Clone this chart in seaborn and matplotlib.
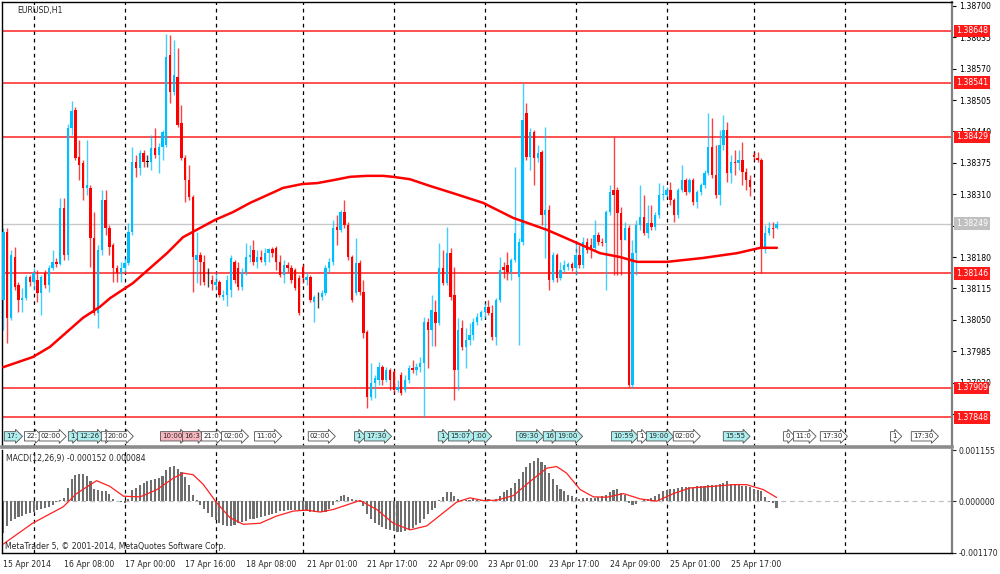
import numpy as np
import pandas as pd
import seaborn as sns
import matplotlib.pyplot as plt
import matplotlib.transforms as mtransforms

# --- EURUSD H1 candles, one entry per hourly bar ---
opens = [
    1.38091, 1.38232, 1.38054, 1.38180, 1.38122, 1.38091, 1.38095, 1.38139, 1.38128, 1.38132,
    1.38105, 1.38147, 1.38122, 1.38157, 1.38170, 1.38166, 1.38281, 1.38184, 1.38447, 1.38484,
    1.38387, 1.38375, 1.38323, 1.38323, 1.38219, 1.38064, 1.38195, 1.38298, 1.38240, 1.38205,
    1.38157, 1.38147, 1.38157, 1.38168, 1.38232, 1.38377, 1.38364, 1.38395, 1.38377, 1.38377,
    1.38406, 1.38391, 1.38408, 1.38412, 1.38598, 1.38522, 1.38553, 1.38457, 1.38385, 1.38339,
    1.38304, 1.38174, 1.38184, 1.38170, 1.38128, 1.38132, 1.38122, 1.38128, 1.38097, 1.38101,
    1.38112, 1.38170, 1.38157, 1.38118, 1.38149, 1.38180, 1.38195, 1.38170, 1.38180, 1.38170,
    1.38188, 1.38197, 1.38199, 1.38170, 1.38143, 1.38164, 1.38157, 1.38153, 1.38137, 1.38159,
    1.38132, 1.38139, 1.38087, 1.38097, 1.38097, 1.38105, 1.38157, 1.38170, 1.38242, 1.38236,
    1.38273, 1.38246, 1.38180, 1.38105, 1.38168, 1.38108, 1.38025, 1.37890, 1.37919, 1.37925,
    1.37952, 1.37925, 1.37946, 1.37942, 1.37905, 1.37936, 1.37905, 1.37925, 1.37950, 1.37946,
    1.37952, 1.37961, 1.38045, 1.38029, 1.38066, 1.38043, 1.38157, 1.38126, 1.38188, 1.38101,
    1.37946, 1.38033, 1.37994, 1.38008, 1.38019, 1.38045, 1.38056, 1.38066, 1.38077, 1.38064,
    1.38014, 1.38091, 1.38159, 1.38164, 1.38149, 1.38174, 1.38139, 1.38211, 1.38478, 1.38387,
    1.38439, 1.38385, 1.38397, 1.38267, 1.38277, 1.38132, 1.38184, 1.38137, 1.38153, 1.38159,
    1.38166, 1.38157, 1.38184, 1.38164, 1.38211, 1.38205, 1.38199, 1.38226, 1.38211, 1.38209,
    1.38273, 1.38319, 1.38319, 1.38271, 1.38215, 1.38240, 1.37915, 1.38188, 1.38246, 1.38263,
    1.38230, 1.38250, 1.38242, 1.38267, 1.38308, 1.38308, 1.38319, 1.38298, 1.38267, 1.38319,
    1.38339, 1.38315, 1.38339, 1.38294, 1.38315, 1.38329, 1.38354, 1.38408, 1.38350, 1.38308,
    1.38412, 1.38443, 1.38354, 1.38377, 1.38375, 1.38381, 1.38356, 1.38339, 1.38391, 1.38385,
    1.38381, 1.38199, 1.38230, 1.38240, 1.38240]
closes = [
    1.38232, 1.38054, 1.38184, 1.38118, 1.38091, 1.38095, 1.38139, 1.38128, 1.38147, 1.38105,
    1.38139, 1.38122, 1.38157, 1.38170, 1.38166, 1.38281, 1.38184, 1.38447, 1.38482, 1.38385,
    1.38370, 1.38323, 1.38329, 1.38219, 1.38064, 1.38195, 1.38298, 1.38240, 1.38201, 1.38157,
    1.38147, 1.38157, 1.38168, 1.38232, 1.38377, 1.38364, 1.38395, 1.38377, 1.38377, 1.38406,
    1.38391, 1.38408, 1.38439, 1.38594, 1.38522, 1.38557, 1.38453, 1.38385, 1.38339, 1.38304,
    1.38180, 1.38184, 1.38170, 1.38128, 1.38128, 1.38124, 1.38128, 1.38101, 1.38101, 1.38132,
    1.38178, 1.38132, 1.38118, 1.38149, 1.38180, 1.38184, 1.38170, 1.38180, 1.38174, 1.38188,
    1.38197, 1.38188, 1.38170, 1.38143, 1.38164, 1.38157, 1.38132, 1.38116, 1.38064, 1.38137,
    1.38139, 1.38091, 1.38097, 1.38097, 1.38105, 1.38157, 1.38170, 1.38240, 1.38236, 1.38273,
    1.38246, 1.38180, 1.38091, 1.38168, 1.38108, 1.38023, 1.37890, 1.37919, 1.37930, 1.37952,
    1.37925, 1.37946, 1.37925, 1.37905, 1.37911, 1.37899, 1.37925, 1.37950, 1.37946, 1.37952,
    1.37961, 1.38045, 1.38029, 1.38070, 1.38043, 1.38157, 1.38126, 1.38188, 1.38097, 1.37946,
    1.38029, 1.37994, 1.38008, 1.38019, 1.38045, 1.38056, 1.38066, 1.38077, 1.38064, 1.38014,
    1.38091, 1.38153, 1.38153, 1.38149, 1.38174, 1.38230, 1.38211, 1.38464, 1.38387, 1.38439,
    1.38385, 1.38395, 1.38267, 1.38277, 1.38132, 1.38184, 1.38137, 1.38153, 1.38164, 1.38166,
    1.38157, 1.38184, 1.38164, 1.38211, 1.38195, 1.38199, 1.38226, 1.38211, 1.38209, 1.38273,
    1.38315, 1.38308, 1.38271, 1.38215, 1.38240, 1.37915, 1.38188, 1.38246, 1.38263, 1.38230,
    1.38250, 1.38242, 1.38267, 1.38308, 1.38310, 1.38319, 1.38298, 1.38267, 1.38319, 1.38339,
    1.38315, 1.38339, 1.38294, 1.38315, 1.38329, 1.38354, 1.38408, 1.38350, 1.38308, 1.38412,
    1.38443, 1.38354, 1.38377, 1.38375, 1.38381, 1.38356, 1.38339, 1.38325, 1.38387, 1.38381,
    1.38199, 1.38230, 1.38240, 1.38238, 1.38249]
highs = [
    1.38240, 1.38240, 1.38195, 1.38201, 1.38128, 1.38116, 1.38143, 1.38143, 1.38157, 1.38153,
    1.38143, 1.38153, 1.38164, 1.38195, 1.38178, 1.38302, 1.38302, 1.38455, 1.38503, 1.38491,
    1.38422, 1.38381, 1.38422, 1.38329, 1.38273, 1.38205, 1.38319, 1.38319, 1.38246, 1.38209,
    1.38164, 1.38170, 1.38178, 1.38250, 1.38408, 1.38391, 1.38402, 1.38402, 1.38391, 1.38433,
    1.38447, 1.38416, 1.38443, 1.38642, 1.38640, 1.38629, 1.38613, 1.38495, 1.38391, 1.38370,
    1.38308, 1.38232, 1.38190, 1.38184, 1.38157, 1.38143, 1.38147, 1.38132, 1.38112, 1.38143,
    1.38184, 1.38174, 1.38170, 1.38157, 1.38209, 1.38205, 1.38215, 1.38195, 1.38195, 1.38199,
    1.38199, 1.38201, 1.38203, 1.38184, 1.38174, 1.38170, 1.38164, 1.38157, 1.38143, 1.38166,
    1.38149, 1.38143, 1.38101, 1.38108, 1.38112, 1.38164, 1.38178, 1.38257, 1.38267, 1.38277,
    1.38298, 1.38252, 1.38184, 1.38219, 1.38174, 1.38132, 1.38029, 1.37961, 1.37936, 1.37963,
    1.37957, 1.37952, 1.37950, 1.37946, 1.37925, 1.37942, 1.37936, 1.37957, 1.37967, 1.37961,
    1.37973, 1.38056, 1.38054, 1.38101, 1.38091, 1.38209, 1.38195, 1.38242, 1.38199, 1.38159,
    1.38054, 1.38050, 1.38033, 1.38043, 1.38054, 1.38064, 1.38070, 1.38085, 1.38091, 1.38081,
    1.38095, 1.38180, 1.38170, 1.38190, 1.38178, 1.38366, 1.38219, 1.38541, 1.38499, 1.38447,
    1.38443, 1.38412, 1.38402, 1.38449, 1.38288, 1.38190, 1.38188, 1.38170, 1.38174, 1.38170,
    1.38170, 1.38209, 1.38205, 1.38221, 1.38219, 1.38219, 1.38257, 1.38232, 1.38219, 1.38277,
    1.38329, 1.38429, 1.38325, 1.38283, 1.38252, 1.38246, 1.38215, 1.38257, 1.38329, 1.38308,
    1.38288, 1.38288, 1.38273, 1.38333, 1.38329, 1.38325, 1.38335, 1.38302, 1.38323, 1.38370,
    1.38344, 1.38344, 1.38344, 1.38319, 1.38333, 1.38360, 1.38478, 1.38468, 1.38412, 1.38443,
    1.38474, 1.38459, 1.38391, 1.38402, 1.38402, 1.38418, 1.38364, 1.38350, 1.38397, 1.38397,
    1.38385, 1.38246, 1.38252, 1.38252, 1.38254]
lows = [
    1.38029, 1.38002, 1.38050, 1.38112, 1.38066, 1.38066, 1.38091, 1.38120, 1.38112, 1.38087,
    1.38060, 1.38116, 1.38108, 1.38153, 1.38159, 1.38164, 1.38174, 1.38174, 1.38433, 1.38381,
    1.38339, 1.38298, 1.38308, 1.38159, 1.38060, 1.38033, 1.38184, 1.38226, 1.38184, 1.38128,
    1.38128, 1.38128, 1.38149, 1.38164, 1.38226, 1.38346, 1.38350, 1.38366, 1.38366, 1.38360,
    1.38385, 1.38354, 1.38381, 1.38408, 1.38499, 1.38515, 1.38449, 1.38381, 1.38294, 1.38298,
    1.38108, 1.38126, 1.38122, 1.38122, 1.38118, 1.38112, 1.38112, 1.38097, 1.38091, 1.38079,
    1.38097, 1.38126, 1.38112, 1.38112, 1.38143, 1.38170, 1.38164, 1.38157, 1.38170, 1.38164,
    1.38170, 1.38180, 1.38153, 1.38139, 1.38126, 1.38149, 1.38126, 1.38112, 1.38060, 1.38126,
    1.38122, 1.38087, 1.38045, 1.38074, 1.38091, 1.38101, 1.38149, 1.38164, 1.38205, 1.38232,
    1.38240, 1.38174, 1.38087, 1.38101, 1.38101, 1.38012, 1.37867, 1.37884, 1.37888, 1.37915,
    1.37915, 1.37921, 1.37905, 1.37899, 1.37901, 1.37894, 1.37901, 1.37919, 1.37940, 1.37936,
    1.37942, 1.37848, 1.37950, 1.37996, 1.37996, 1.38039, 1.38122, 1.38122, 1.38091, 1.37884,
    1.37905, 1.37988, 1.37950, 1.37998, 1.38008, 1.38039, 1.38050, 1.38054, 1.38060, 1.38008,
    1.37998, 1.38087, 1.38137, 1.38132, 1.38132, 1.38170, 1.37998, 1.38205, 1.38381, 1.38360,
    1.38329, 1.38377, 1.38246, 1.38178, 1.38112, 1.38128, 1.38128, 1.38132, 1.38149, 1.38153,
    1.38151, 1.38143, 1.38157, 1.38157, 1.38188, 1.38178, 1.38195, 1.38205, 1.38203, 1.38112,
    1.38267, 1.38143, 1.38143, 1.38143, 1.38215, 1.37911, 1.37909, 1.38143, 1.38236, 1.38226,
    1.38219, 1.38236, 1.38236, 1.38261, 1.38298, 1.38304, 1.38288, 1.38252, 1.38261, 1.38315,
    1.38308, 1.38312, 1.38288, 1.38281, 1.38308, 1.38323, 1.38350, 1.38344, 1.38302, 1.38288,
    1.38402, 1.38335, 1.38333, 1.38350, 1.38360, 1.38329, 1.38319, 1.38306, 1.38381, 1.38377,
    1.38146, 1.38188, 1.38226, 1.38219, 1.38238]

# moving average (red line): bar position, price
ma_bar = [0, 7.8, 12.3, 16.8, 21.0, 25.5, 28.2, 34.2, 38.7, 43.2, 47.4, 51.9, 55.9,
          60.6, 65.1, 69.6, 73.8, 78.8, 82.8, 87.0, 91.5, 95.9, 100.2, 102.8, 107.3,
          112.6, 118.7, 126.6, 134.5, 143.5, 151.4, 157.4, 162.7, 167.2, 175.1, 184.6,
          193.6, 199.7, 204.1]
ma_val = [1.37952, 1.37973, 1.37994, 1.38025, 1.38054, 1.38077, 1.38095, 1.38126,
          1.38157, 1.38188, 1.38221, 1.38240, 1.38257, 1.38273, 1.38292, 1.38308,
          1.38323, 1.38331, 1.38333, 1.38339, 1.38346, 1.38348, 1.38348, 1.38346,
          1.38341, 1.38327, 1.38312, 1.38292, 1.38261, 1.38236, 1.38209, 1.38188,
          1.38180, 1.38170, 1.38170, 1.38178, 1.38188, 1.38199, 1.38199]

# MACD(12,26,9) histogram, one value per bar
macd_hist = [
    -0.000708, -0.000559, -0.000447, -0.000395, -0.000358, -0.000335, -0.000298, -0.000276, -0.000246, -0.000201,
    -0.000171, -0.000149, -0.000127, -0.000097, -0.000022, 0.000037, 0.000075, 0.000298, 0.000499, 0.000596,
    0.000618, 0.000611, 0.000574, 0.000447, 0.000276, 0.000246, 0.000238, 0.000224, 0.000171, 0.000052,
    0.000015, -0.000022, -0.000052, 0.000052, 0.000246, 0.000298, 0.000373, 0.000410, 0.000447, 0.000484,
    0.000499, 0.000522, 0.000574, 0.000708, 0.000782, 0.000797, 0.000723, 0.000648, 0.000544, 0.000373,
    0.000149, 0.000022, -0.000097, -0.000171, -0.000261, -0.000358, -0.000432, -0.000499, -0.000544, -0.000559,
    -0.000559, -0.000544, -0.000499, -0.000469, -0.000447, -0.000410, -0.000395, -0.000380, -0.000358, -0.000335,
    -0.000305, -0.000283, -0.000261, -0.000231, -0.000216, -0.000201, -0.000201, -0.000209, -0.000224, -0.000231,
    -0.000231, -0.000238, -0.000246, -0.000246, -0.000246, -0.000238, -0.000186, -0.000097, 0.000037, 0.000112,
    0.000149, 0.000097, 0.000052, 0.000022, -0.000022, -0.000112, -0.000298, -0.000410, -0.000484, -0.000544,
    -0.000574, -0.000618, -0.000648, -0.000671, -0.000693, -0.000693, -0.000671, -0.000648, -0.000596, -0.000544,
    -0.000484, -0.000410, -0.000298, -0.000201, -0.000149, 0.000022, 0.000097, 0.000201, 0.000201, 0.000112,
    0.000060, 0.000037, 0.000030, 0.000037, 0.000052, 0.000037, 0.000037, 0.000037, 0.000052, 0.000015,
    0.000060, 0.000127, 0.000201, 0.000246, 0.000298, 0.000410, 0.000499, 0.000648, 0.000782, 0.000872,
    0.000916, 0.000969, 0.000894, 0.000820, 0.000633, 0.000499, 0.000373, 0.000276, 0.000224, 0.000149,
    0.000112, 0.000075, 0.000052, 0.000075, 0.000075, 0.000075, 0.000075, 0.000097, 0.000112, 0.000149,
    0.000201, 0.000261, 0.000276, 0.000186, 0.000149, -0.000052, -0.000097, -0.000075, 0.000007, 0.000037,
    0.000052, 0.000075, 0.000127, 0.000171, 0.000224, 0.000261, 0.000283, 0.000283, 0.000298, 0.000313,
    0.000313, 0.000313, 0.000313, 0.000335, 0.000335, 0.000350, 0.000373, 0.000373, 0.000373, 0.000387,
    0.000410, 0.000447, 0.000387, 0.000387, 0.000373, 0.000350, 0.000335, 0.000313, 0.000276, 0.000261,
    0.000224, 0.000097, -0.000022, -0.000052, -0.000152]

# MACD signal line
sig_bar = [0, 7.7, 15.8, 19.3, 24.6, 28.1, 31.7, 36.1, 40.5, 44.9, 47.5, 50.1, 52.8,
           56.3, 59.8, 63.3, 67.7, 72.1, 76.5, 80, 83.6, 87.1, 92.3, 94.1, 98.5, 102.9,
           107.3, 111.7, 116.1, 119.6, 123.1, 126.6, 130.2, 134.6, 139, 143.4, 146,
           148.6, 152.2, 155.7, 159.2, 163.6, 168, 172.4, 176.8, 181.2, 187.3, 192.6,
           196.1, 200.5, 204]
sig_val = [-0.000968, -0.000499, -0.000127, 0.000171, 0.000462, 0.000335, 0.000112,
           0.000097, 0.000261, 0.000522, 0.000633, 0.000596, 0.000373, -0.000037,
           -0.000373, -0.000522, -0.000499, -0.000335, -0.000224, -0.000201, -0.000246,
           -0.000186, -0.000037, 0.000015, -0.000186, -0.000499, -0.000648, -0.000559,
           -0.000261, -0.000022, 0.000075, 0.000015, 0.000022, 0.000127, 0.000447,
           0.000745, 0.000782, 0.000633, 0.000261, 0.000097, 0.000089, 0.000171,
           0.000052, 0.000000, 0.000171, 0.000298, 0.000335, 0.000373, 0.000373,
           0.000261, 0.000084]

# horizontal levels and current bid
level_prices = [1.38648, 1.38541, 1.38429, 1.38146, 1.37909, 1.37848]
bid_price = 1.38249

# price axis ticks (1.38245 sits fully under the bid label, so its text is not shown)
price_ticks = [1.38700, 1.38635, 1.38570, 1.38505, 1.38440, 1.38375, 1.38310,
               1.38245, 1.38180, 1.38115, 1.38050, 1.37985, 1.37920, 1.37855]
macd_ticks = [0.001155, 0.000000, -0.001170]

# time axis
time_tick_bars = [0, 16, 32, 48, 64, 80, 96, 112, 128, 144, 160, 176, 192]
time_tick_labels = ['15 Apr 2014', '16 Apr 08:00', '17 Apr 00:00', '17 Apr 16:00',
                    '18 Apr 08:00', '21 Apr 01:00', '21 Apr 17:00', '22 Apr 09:00',
                    '23 Apr 01:00', '23 Apr 17:00', '24 Apr 09:00', '25 Apr 01:00',
                    '25 Apr 17:00']
grid_bars = [8, 32, 56, 79, 103, 127, 151, 175, 198, 222]

# economic calendar strip: bar position, text, kind
event_bar = [0.7, 6.0, 9.9, 17.6, 20.0, 26.3, 27.6, 41.9, 47.7, 52.7, 58.0, 66.7,
             80.9, 93.1, 95.7, 115.2, 117.9, 124.5, 135.8, 142.9, 146.1, 160.9,
             167.7, 170.1, 177.2, 190.4, 206.3, 208.9, 216.0, 234.5, 240.0]
event_text = ['17:', '22:', '02:00', '1', '12:26', '1', '20:00', '10:00', '16:3',
              '21:0', '02:00', '11:00', '02:00', '1', '17:30', '1', '15:07', ':00',
              '09:30', '16', '19:00', '10:59', '1', '19:00', '02:00', '15:55', '0',
              '11:0', '17:30', '1', '17:30']
event_kind = ['c', 'w', 'w', 'c', 'c', 'w', 'w', 'p', 'p', 'w', 'w', 'w', 'w', 'c',
              'c', 'c', 'c', 'c', 'c', 'c', 'c', 'c', 'w', 'c', 'w', 'c', 'w', 'w',
              'w', 'w', 'w']

UP = '#00BFFF'
DOWN = '#FF0000'
kind_color = {'c': '#AEEEEE', 'p': '#F7B8C0', 'w': '#FFFFFF'}

sns.set_style('white')
plt.rcParams['font.family'] = ['DejaVu Sans']
plt.rcParams['font.size'] = 5.5

df = pd.DataFrame({'open': opens, 'high': highs, 'low': lows, 'close': closes})
df['bar'] = np.arange(len(df))
df['color'] = np.where(df['close'] > df['open'], UP,
                       np.where(df['close'] < df['open'], DOWN, 'black'))

fig = plt.figure(figsize=(10, 5.74), dpi=100)
ax = fig.add_axes([0.002, 1 - 447 / 574, 0.950, 445 / 574])
ax2 = fig.add_axes([0.002, 1 - 553 / 574, 0.950, 103 / 574], sharex=ax)

# --- price panel ---
for b in grid_bars:
    ax.axvline(b, color='black', lw=0.9, ls=(0, (3, 3)), zorder=0.5)
    ax2.axvline(b, color='black', lw=0.9, ls=(0, (3, 3)), zorder=0.5)

for p in level_prices:
    ax.axhline(p, color='#FF2020', lw=1.1, zorder=1)
ax.axhline(bid_price, color='#C8C8C8', lw=1.0, zorder=1)

ax.vlines(df['bar'], df['low'], df['high'], colors=df['color'], lw=1.0, alpha=0.75, zorder=2)
body_lo = df[['open', 'close']].min(axis=1)
body_h = (df['close'] - df['open']).abs().clip(lower=0.000012)
ax.bar(df['bar'], body_h, bottom=body_lo, width=0.62, color=df['color'], linewidth=0, zorder=3)

sns.lineplot(x=ma_bar, y=ma_val, ax=ax, color='#FF0000', lw=1.8, zorder=4)

ax.set_xlim(-0.35, 250.3)
ax.set_ylim(1.377867, 1.387079)
ax.yaxis.tick_right()
ax.set_yticks(price_ticks)
ax.set_yticklabels(['' if abs(t - bid_price) < 0.0001 else f'{t:.5f}' for t in price_ticks])
ax.tick_params(axis='y', direction='out', length=3, width=0.8, pad=2, labelsize=5.6, colors='black')
ax.tick_params(axis='x', bottom=False, labelbottom=False)
ax.set_xlabel('')
ax.set_ylabel('')

for side in ['left', 'top']:
    ax.spines[side].set_color('black')
    ax.spines[side].set_linewidth(1)
ax.spines['right'].set_color('#808080')
ax.spines['right'].set_linewidth(1.6)
ax.spines['bottom'].set_color('#8c8c8c')
ax.spines['bottom'].set_linewidth(2.6)

ax.text(0.016, 0.982, 'EURUSD,H1', transform=ax.transAxes, fontsize=5.6,
        ha='left', va='center')

# level labels on the price scale
yscale = mtransforms.blended_transform_factory(ax.transAxes, ax.transData)
for p in level_prices:
    ax.text(1.004, p, f'{p:.5f}', transform=yscale,
            ha='left', va='center', fontsize=5.6, color='white', clip_on=False, zorder=6,
            bbox=dict(boxstyle='square,pad=0.22', fc='#FF1A1A', ec='none'))
ax.text(1.004, bid_price, f'{bid_price:.5f}', transform=yscale,
        ha='left', va='center', fontsize=5.6, color='white', clip_on=False, zorder=6,
        bbox=dict(boxstyle='square,pad=0.22', fc='#C0C0C0', ec='none'))

# calendar event strip along the bottom of the price panel
strip = mtransforms.blended_transform_factory(ax.transData, ax.transAxes)
for b, t, k in zip(event_bar, event_text, event_kind):
    ax.text(b, 0.024, t, transform=strip, fontsize=5.0, ha='left', va='center', zorder=7,
            bbox=dict(boxstyle='rarrow,pad=0.24', fc=kind_color[k], ec='#505050', lw=0.6))

# --- MACD panel ---
ax2.axhline(0, color='#C0C0C0', lw=0.9, ls=(0, (4, 3)), zorder=1)
ax2.bar(df['bar'], macd_hist, width=0.55, color='#6e6e6e', linewidth=0, zorder=2)
sns.lineplot(x=sig_bar, y=sig_val, ax=ax2, color='#FF2020', lw=0.9, zorder=3)

ax2.set_ylim(-0.00117, 0.001155)
ax2.yaxis.tick_right()
ax2.set_yticks(macd_ticks)
ax2.set_yticklabels([f'{t:.6f}' for t in macd_ticks])
ax2.tick_params(axis='y', direction='out', length=3, width=0.8, pad=2, labelsize=5.6)
ax2.set_xticks(time_tick_bars)
ax2.set_xticklabels(time_tick_labels, ha='left')
ax2.tick_params(axis='x', direction='out', length=3, width=0.8, pad=2, labelsize=5.6)
ax2.set_xlabel('')
ax2.set_ylabel('')

ax2.spines['top'].set_visible(False)
ax2.spines['left'].set_color('black')
ax2.spines['left'].set_linewidth(1)
ax2.spines['bottom'].set_color('black')
ax2.spines['bottom'].set_linewidth(1)
ax2.spines['right'].set_color('#808080')
ax2.spines['right'].set_linewidth(1.6)

ax2.text(0.004, 0.915, 'MACD(12,26,9) -0.000152 0.000084', transform=ax2.transAxes,
         fontsize=5.6, ha='left', va='center')
ax2.text(0.003, 0.06, 'MetaTrader 5, \u00a9 2001-2014, MetaQuotes Software Corp.',
         transform=ax2.transAxes, fontsize=5.6, ha='left', va='center')

fig.savefig('out.png', dpi=100, facecolor='white')
